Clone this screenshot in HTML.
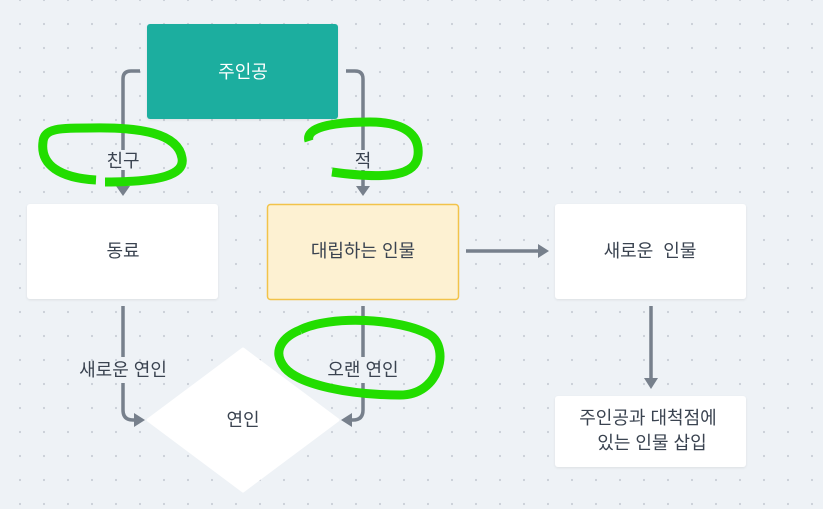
<!DOCTYPE html>
<html><head><meta charset="utf-8"><style>
html,body{margin:0;padding:0;}
body{width:823px;height:509px;overflow:hidden;background:#eef2f6;}
svg{display:block;}
text{font-family:"Liberation Sans","Noto Sans CJK KR",sans-serif;font-size:18px;fill:#3a4350;text-anchor:middle;dominant-baseline:central;}
</style></head><body>
<svg width="823" height="509" viewBox="0 0 823 509">
<defs>
<pattern id="d" x="8" y="-12" width="24" height="24" patternUnits="userSpaceOnUse">
<circle cx="12" cy="12" r="1.1" fill="#c9ced6"/>
</pattern>
<filter id="sh" x="-10%" y="-10%" width="120%" height="130%"><feDropShadow dx="0" dy="1" stdDeviation="1.2" flood-color="#000" flood-opacity="0.08"/></filter>
</defs>
<rect width="823" height="509" fill="url(#d)"/>

<g fill="none" stroke="#77808c" stroke-width="3.5">
<path d="M140 71 H131 Q123 71 123 79 V150"/>
<path d="M123 170 V186"/>
<path d="M346 71 H355 Q363 71 363 79 V150"/>
<path d="M363 170 V186"/>
<path d="M466 251 H538"/>
<path d="M651 306 V378"/>
<path d="M123 306 V357"/>
<path d="M123 383 V410 Q123 420 133 420 H136"/>
<path d="M363 306 V357"/>
<path d="M363 383 V410 Q363 420 353 420 H350"/>
</g>
<g fill="#77808c">
<path d="M116 186 H130 L123 196 Z"/>
<path d="M356 186 H370 L363 196 Z"/>
<path d="M538 244 V258 L549 251 Z"/>
<path d="M644 378 H658 L651 389 Z"/>
<path d="M134 413 L145 420 L134 427 Z"/>
<path d="M352 413 L341 420 L352 427 Z"/>
</g>

<rect x="147" y="24" width="191" height="95" rx="3" fill="#1aae9f" filter="url(#sh)"/>
<text x="243" y="72" style="fill:#fff">주인공</text>
<rect x="27" y="204" width="191" height="95" rx="3" fill="#fff" filter="url(#sh)"/>
<text x="123" y="251">동료</text>
<rect x="267.5" y="204.5" width="191" height="95" rx="3" fill="#fdf1d2" stroke="#f2c34a" stroke-width="1.5"/>
<text x="363" y="251">대립하는 인물</text>
<rect x="555" y="204" width="191" height="95" rx="3" fill="#fff" filter="url(#sh)"/>
<text x="650" y="251" xml:space="preserve">새로운  인물</text>
<rect x="555" y="396" width="191" height="71" rx="3" fill="#fff" filter="url(#sh)"/>
<text x="648" y="418">주인공과 대척점에</text>
<text x="652" y="443">있는 인물 삽입</text>
<path d="M243 349 L338 420 L243 491 L148 420 Z" fill="#fff" stroke="#fff" stroke-width="3" stroke-linejoin="round"/>
<text x="243" y="420">연인</text>

<text x="123" y="161">친구</text>
<text x="363" y="161">적</text>
<text x="123" y="370">새로운 연인</text>
<text x="363" y="370">오랜 연인</text>

<g fill="none" stroke="#22dd00" stroke-width="9" stroke-linecap="butt" stroke-linejoin="round">
<path d="M96 180 C60 178 40 165 43 142 C44 128 60 128 90 128 C140 127 178 133 182 158 C185 175 160 182 105 182"/>
<path d="M309 141 C305 128 330 122 370 122 C405 122 420 135 418 155 C416 175 390 180 332 172"/>
<path d="M300 330 C330 315 400 318 430 335 C450 348 440 395 400 395 C350 395 300 385 285 368 C270 350 285 336 300 330"/>
</g>
</svg>
</body></html>
